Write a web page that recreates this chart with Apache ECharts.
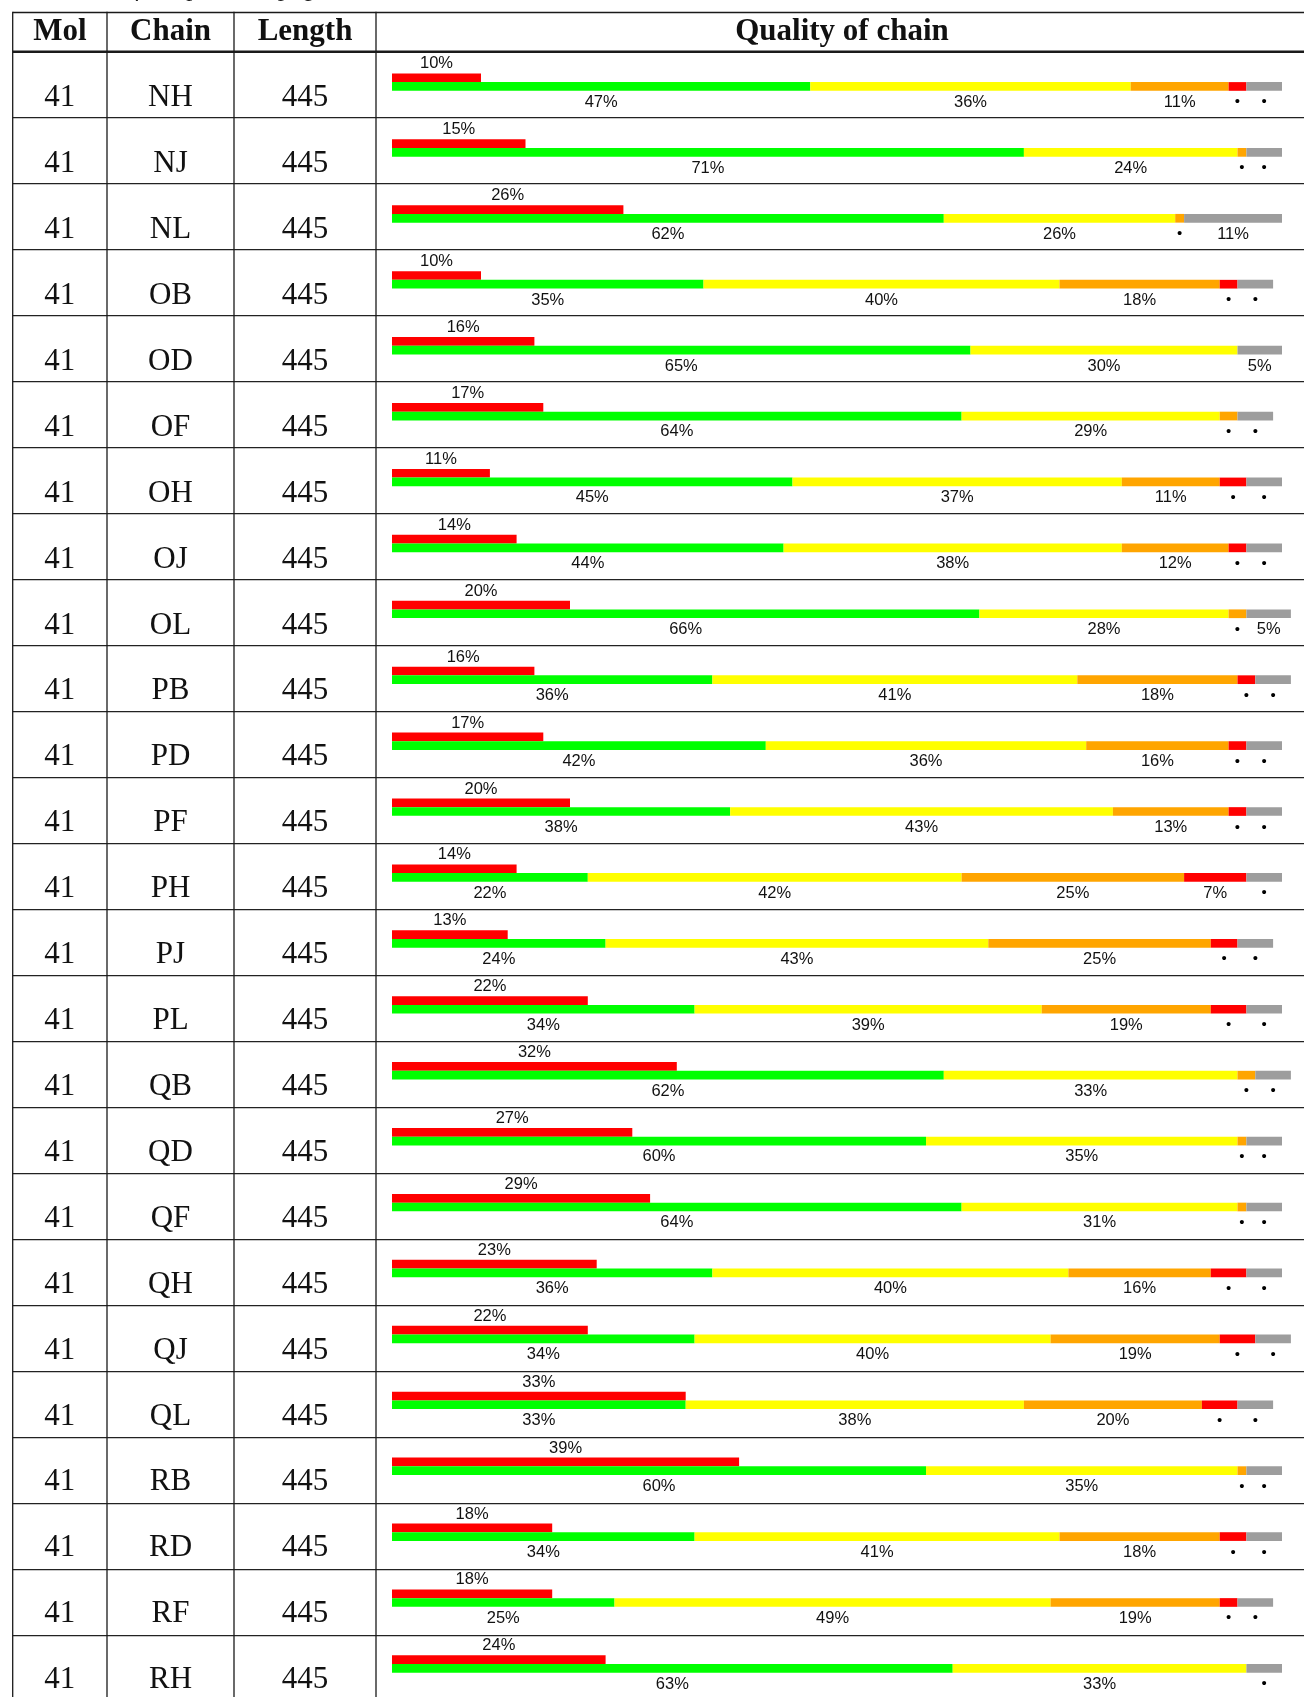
<!DOCTYPE html>
<html><head><meta charset="utf-8">
<script src="https://cdn.jsdelivr.net/npm/echarts@6/dist/echarts.min.js"></script>
<style>html,body{margin:0;padding:0;background:#fff}#c{width:1304px;height:1697px}</style>
</head><body><div id="c"></div>
<script>
// ---- data ----
const chains = ['NH','NJ','NL','OB','OD','OF','OH','OJ','OL','PB','PD','PF','PH','PJ','PL','QB','QD','QF','QH','QJ','QL','RB','RD','RF','RH'];
const mol = ['41','41','41','41','41','41','41','41','41','41','41','41','41','41','41','41','41','41','41','41','41','41','41','41','41'];
const lengths = ['445','445','445','445','445','445','445','445','445','445','445','445','445','445','445','445','445','445','445','445','445','445','445','445','445'];
const outliers = [10,15,26,10,16,17,11,14,20,16,17,20,14,13,22,32,27,29,23,22,33,39,18,18,24];
const green  = [47,71,62,35,65,64,45,44,66,36,42,38,22,24,34,62,60,64,36,34,33,60,34,25,63];
const yellow = [36,24,26,40,30,29,37,38,28,41,36,43,42,43,39,33,35,31,40,40,38,35,41,49,33];
const orange = [11,1,1,18,0,2,11,12,2,18,16,13,25,25,19,2,1,1,16,19,20,1,18,19,0];
const red    = [2,0,0,2,0,0,3,2,0,2,2,2,7,3,4,0,0,0,4,4,4,0,3,2,0];
const grey   = [4,4,11,4,5,4,4,4,5,4,4,4,4,4,4,4,4,4,4,4,4,4,4,4,4];
const headers = ['Mol','Chain','Length','Quality of chain'];

// ---- layout ----
const W = 1304, H = 1697;
const ROW0 = 51.7, ROWH = 66;
const colX = [12.7, 107, 234, 376];
const colC = [(colX[0]+colX[1])/2, (colX[1]+colX[2])/2, (colX[2]+colX[3])/2, 842];
const gridLeft = 392, pctW = 8.9, XMAX = 101;
const BARW = 8.7;
const gridTop = ROW0 - 2.55;

const chart = echarts.init(document.getElementById('c'), null, {renderer:'canvas'});

const labFont = {fontFamily:'Liberation Sans', fontSize:16.5, color:'#111'};
function segLabel(p){ const v = p.value; if(!v) return ''; return v >= 5 ? v + '%' : '{d|\u2022}'; }
function stackSeries(name, data, color){
  return {
    name, type:'bar', stack:'q', data, barWidth:BARW, barGap:'0%', barCategoryGap:'0%',
    itemStyle:{color}, silent:true, animation:false,
    label:{show:true, position:'bottom', distance:3, formatter:segLabel, ...labFont,
      rich:{d:{fontSize:15, lineHeight:17, color:'#000'}}}
  };
}

const graphics = [];
const lineCol = '#1a1a1a';
// italic caption cut at top
graphics.push({type:'text', left:25, top:-23, style:{text:'Continued from previous page', font:'italic 25px "Liberation Serif"', fill:'#222'}});
// horizontal rules
graphics.push({type:'line', shape:{x1:colX[0], y1:12.5, x2:W, y2:12.5}, style:{stroke:lineCol, lineWidth:1.4}});
graphics.push({type:'line', shape:{x1:colX[0], y1:ROW0, x2:W, y2:ROW0}, style:{stroke:lineCol, lineWidth:2.5}});
for (let k=1;k<chains.length;k++){
  const y = ROW0 + k*ROWH;
  graphics.push({type:'line', shape:{x1:colX[0], y1:y, x2:W, y2:y}, style:{stroke:'#222', lineWidth:1.2}});
}
colX.forEach(x=>graphics.push({type:'line', shape:{x1:x, y1:11.8, x2:x, y2:H}, style:{stroke:lineCol, lineWidth:1.3}}));
// headers
headers.forEach((h,i)=>graphics.push({type:'text', x:colC[i], y:32, style:{text:h, font:'bold 31px "Liberation Serif"', fill:'#111', align:'center', verticalAlign:'middle'}}));

function colAxis(data, center){
  return {type:'category', data, inverse:true, position:'left', offset:0,
    axisLine:{show:false}, axisTick:{show:false}, splitLine:{show:false},
    axisLabel:{show:true, interval:0, margin:gridLeft-center, align:'center', verticalAlign:'top', lineHeight:32,
      fontFamily:'Liberation Serif', fontSize:31, color:'#111'}};
}

chart.setOption({
  animation:false,
  backgroundColor:'#fff',
  grid:{left:gridLeft, top:gridTop, width:pctW*XMAX, height:ROWH*chains.length, containLabel:false},
  xAxis:{type:'value', min:0, max:XMAX, show:false},
  yAxis:[
    colAxis(chains, colC[1]),
    colAxis(mol, colC[0]),
    colAxis(lengths, colC[2])
  ],
  series:[
    {name:'outliers', type:'bar', data:outliers, barWidth:BARW, barGap:'0%', barCategoryGap:'0%',
      itemStyle:{color:'#ff0000'}, silent:true,
      label:{show:true, position:'top', distance:1, formatter:'{c}%', ...labFont}},
    stackSeries('green', green, '#00ff00'),
    stackSeries('yellow', yellow, '#ffff00'),
    stackSeries('orange', orange, '#ffa500'),
    stackSeries('red', red, '#ff0000'),
    stackSeries('grey', grey, '#9d9d9d')
  ],
  graphic:graphics
});
</script></body></html>
